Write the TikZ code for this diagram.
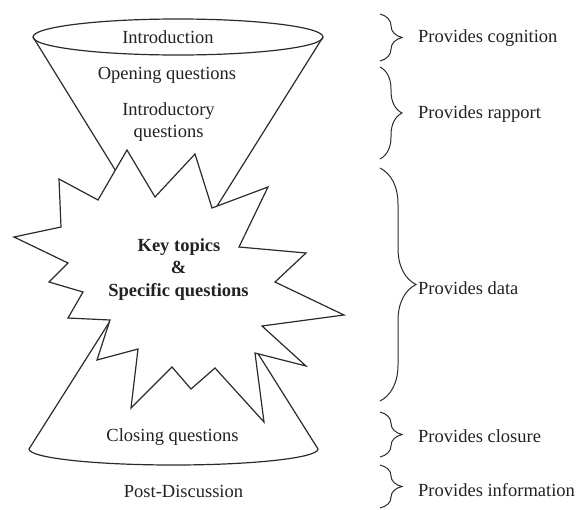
\documentclass[tikz,border=0pt]{standalone}
\usepackage{fontspec}
\setmainfont{Liberation Serif}
\usetikzlibrary{decorations.pathreplacing}
\definecolor{ink}{HTML}{2B2B2B}
\definecolor{txt}{HTML}{222222}
\begin{document}
\begin{tikzpicture}[x=1pt,y=-1pt,
  outline/.style={draw=ink,line width=1.2pt,line join=miter},
  lbl/.style={text=txt,font=\fontsize{18.5}{22.5}\selectfont,inner sep=0pt,anchor=base},
  boldlbl/.style={lbl,font=\fontsize{18.5}{22.5}\selectfont\bfseries},
  sidelbl/.style={text=txt,font=\fontsize{18.5}{22.5}\selectfont,inner sep=0pt,anchor=base west},
  curly/.style={draw=ink,line width=1pt,decorate,decoration={brace,amplitude=#1}},
]
\useasboundingbox (0,0) rectangle (578,509);

% upper funnel: rim ellipse and the two sides running to the hidden apex
\coordinate (tl) at (33,37);
\coordinate (tr) at (323,37);
\coordinate (tapex) at (177,270);
\draw[outline] (178,37) ellipse [x radius=145, y radius=18];
\draw[outline] (tl) -- (tapex) -- (tr);

% lower funnel: sides from the hidden apex and the front half of the base
\coordinate (bl) at (29,449);
\coordinate (br) at (318,449);
\coordinate (bapex) at (174,220);
\draw[outline] (bapex) -- (bl) arc[start angle=180, end angle=0, x radius=144.5, y radius=16] -- cycle;

% the burst in the middle, filled so it hides the funnel apexes
\draw[outline,fill=white]
  (127,150) -- (155,197) -- (195,154) -- (212,208) -- (268,187) -- (239,247)
  -- (306,253) -- (275,282) -- (344,315) -- (262,326) -- (306,366) -- (255,353)
  -- (264,422) -- (215,368) -- (191,389) -- (172,367) -- (131,408) -- (138,349)
  -- (97,360) -- (110,320) -- (68,318) -- (83,292) -- (49,282) -- (68,263)
  -- (14,237) -- (61,227) -- (59,179) -- (98,200) -- cycle;

% stage labels, one node per printed line
\node[lbl] (intro) at (168,43) {Introduction};
\node[lbl] (opening) at (167,79) {Opening questions};
\node[lbl] (introqa) at (168.5,115) {Introductory};
\node[lbl] (introqb) at (168.5,137) {questions};
\node[boldlbl] (keya) at (179,251) {Key topics};
\node[boldlbl] (keyb) at (178.5,273.5) {\&};
\node[boldlbl] (keyc) at (178.5,296.5) {Specific questions};
\node[lbl] (closing) at (172.5,441) {Closing questions};
\node[lbl] (post) at (183.5,497) {Post-Discussion};

% braces on the right
\coordinate (b1t) at (380,14);  \coordinate (b1b) at (380,61);
\coordinate (b2t) at (380,67);  \coordinate (b2b) at (380,159);
\coordinate (b3t) at (380,168); \coordinate (b3b) at (380,401);
\coordinate (b4t) at (380,412); \coordinate (b4b) at (380,457);
\coordinate (b5t) at (380,465); \coordinate (b5b) at (380,508);
\draw[curly=22pt] (b1t) -- (b1b);
\draw[curly=22pt] (b2t) -- (b2b);
\draw[curly=36pt] (b3t) -- (b3b);
\draw[curly=22pt] (b4t) -- (b4b);
\draw[curly=22pt] (b5t) -- (b5b);

% what each stage provides
\node[sidelbl] (cog) at (418,42.5) {Provides cognition};
\node[sidelbl] (rap) at (418,118.5) {Provides rapport};
\node[sidelbl] (dat) at (418,294) {Provides data};
\node[sidelbl] (clo) at (418,442.5) {Provides closure};
\node[sidelbl] (inf) at (418,496) {Provides information};
\end{tikzpicture}
\end{document}
